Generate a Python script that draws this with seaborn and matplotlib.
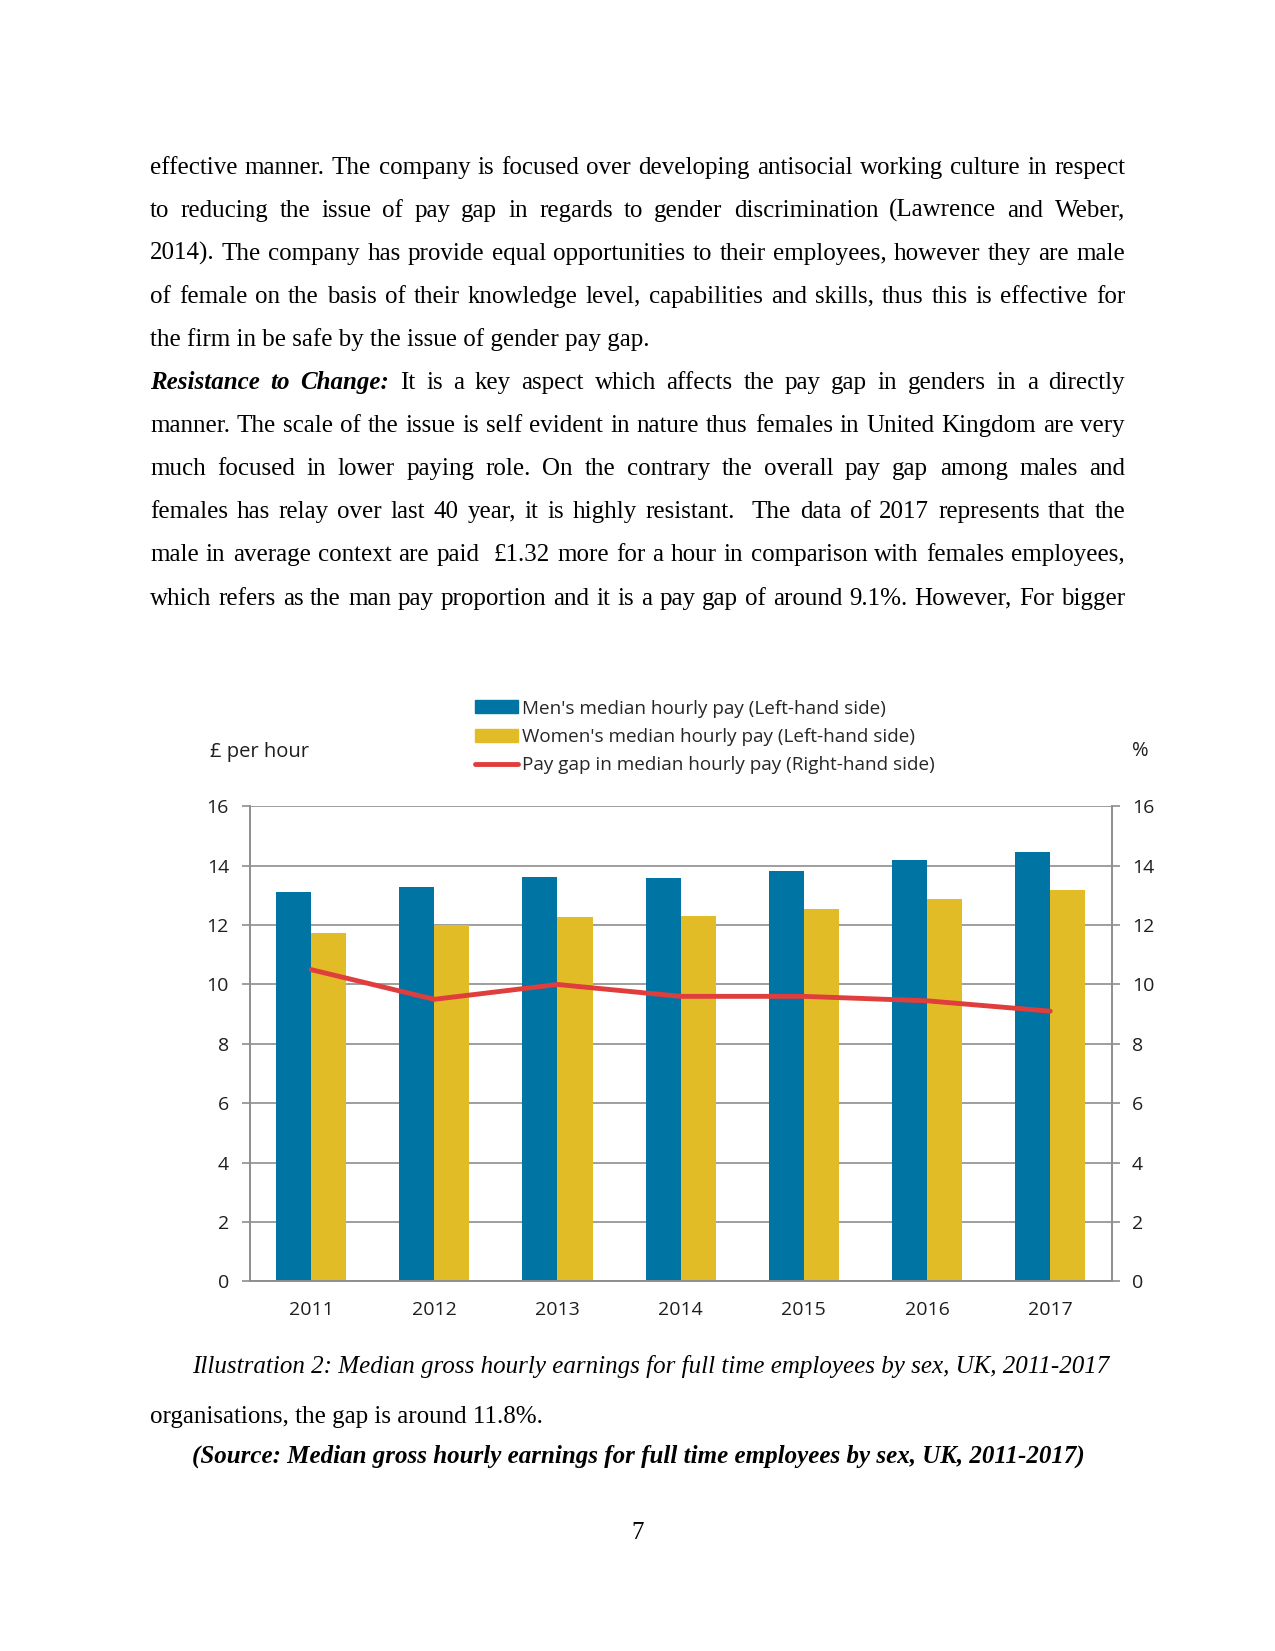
import numpy as np
import pandas as pd
import matplotlib
matplotlib.use("Agg")
import matplotlib.pyplot as plt
from matplotlib.patches import Patch
from matplotlib.lines import Line2D
from matplotlib.transforms import IdentityTransform
import seaborn as sns

# data
years = ["2011", "2012", "2013", "2014", "2015", "2016", "2017"]
men_pay = [13.1, 13.28, 13.62, 13.6, 13.84, 14.18, 14.48]
women_pay = [11.75, 12.0, 12.26, 12.32, 12.54, 12.88, 13.18]
pay_gap = [10.5, 9.5, 10.0, 9.6, 9.6, 9.45, 9.1]
series_labels = ["Men's median hourly pay (Left-hand side)",
                 "Women's median hourly pay (Left-hand side)",
                 "Pay gap in median hourly pay (Right-hand side)"]
y_ticks = [0, 2, 4, 6, 8, 10, 12, 14, 16]

# page text
para1 = [
    "effective manner. The company is focused over developing antisocial working culture in respect",
    "to reducing the issue of pay gap in regards to gender discrimination (Lawrence and Weber,",
    "2014). The company has provide equal opportunities to their employees, however they are male",
    "of female on the basis of their knowledge level, capabilities and skills, thus this is effective for",
    "the firm in be safe by the issue of gender pay gap.",
]
para2_head = "Resistance to Change:"
para2 = [
    "It is a key aspect which affects the pay gap in genders in a directly",
    "manner. The scale of the issue is self evident in nature thus females in United Kingdom are very",
    "much focused in lower paying role. On the contrary the overall pay gap among males and",
    "females has relay over last 40 year, it is highly resistant.  The data of 2017 represents that the",
    "male in average context are paid  \u00a31.32 more for a hour in comparison with females employees,",
    "which refers as the man pay proportion and it is a pay gap of around 9.1%. However, For bigger",
]
caption = "Illustration 2: Median gross hourly earnings for full time employees by sex, UK, 2011-2017"
after_text = "organisations, the gap is around 11.8%."
source_text = "(Source: Median gross hourly earnings for full time employees by sex, UK, 2011-2017)"
page_no = "7"

BLUE = "#0074A2"
YELLOW = "#E2BC27"
RED = "#E03E3C"
GRID = "#8E8E8E"
INK = "#1E1E1E"

sns.set_style("white")
plt.rcParams["font.family"] = ["Open Sans", "DejaVu Sans"]

W, H = 1275, 1651
fig = plt.figure(figsize=(W / 100, H / 100), dpi=100)
renderer = fig.canvas.get_renderer()

BODY = dict(family=["Liberation Serif", "DejaVu Serif"], fontsize=18, color="black")
BI = dict(fontweight="bold", fontstyle="italic")


def put(s, x, y, **kw):
    # x, y in pixels from top-left, y = baseline
    return fig.text(x, H - y, s, transform=IdentityTransform(), va="baseline", **kw)


def justify(words, y, x0=150, x1=1125):
    arts = [put(w, x0, y, **BODY, **st) for w, st in words]
    widths = [a.get_window_extent(renderer).width if w else 0.0
              for a, (w, st) in zip(arts, words)]
    gap = (x1 - x0 - sum(widths)) / (len(words) - 1)
    x = x0
    for a, wd in zip(arts, widths):
        a.set_x(x)
        x += wd + gap


LINE0, STEP = 173.5, 43.1
for i, line in enumerate(para1):
    y = LINE0 + STEP * i
    if i < len(para1) - 1:
        justify([(w, {}) for w in line.split(" ")], y)
    else:
        put(line, 150, y, **BODY)

for i, line in enumerate(para2):
    y = LINE0 + STEP * (i + len(para1))
    words = [(w, {}) for w in line.split(" ")]
    if i == 0:
        words = [(w, BI) for w in para2_head.split(" ")] + words
    justify(words, y)

put(caption, 192, 1373, fontstyle="italic", **BODY)
put(after_text, 150, 1423, **BODY)
put(source_text, 192, 1463, **BI, **BODY)
put(page_no, 637.5, 1539, ha="center", **BODY)

# chart
ax = fig.add_axes([249.5 / W, (H - 1281.3) / H, 862.3 / W, 474.9 / H])
bars = pd.DataFrame({
    "year": years * 2,
    "series": [series_labels[0]] * len(years) + [series_labels[1]] * len(years),
    "pay": men_pay + women_pay,
})
sns.barplot(data=bars, x="year", y="pay", hue="series", palette=[BLUE, YELLOW],
            width=0.57, saturation=1, errorbar=None, legend=False,
            linewidth=0, ax=ax)

ax2 = ax.twinx()
gap_df = pd.DataFrame({"pos": np.arange(len(years)), "gap": pay_gap})
sns.lineplot(data=gap_df, x="pos", y="gap", color=RED, lw=3.5, ax=ax2)

TICKFONT = dict(family=["Open Sans", "DejaVu Sans"], size=14)
for a in (ax, ax2):
    a.set_ylim(0, 16)
    a.set_yticks(y_ticks)
    a.set_yticklabels([str(v) for v in y_ticks], fontdict=TICKFONT, color=INK)
    a.set_xlabel("")
    a.set_ylabel("")
    for side in ("top", "left", "right", "bottom"):
        a.spines[side].set_color(GRID)
        a.spines[side].set_linewidth(1.2)
    a.spines["top"].set_visible(False)
ax.set_xlim(-0.5, len(years) - 0.5)
ax.grid(axis="y", color=GRID, lw=1.2)
ax.set_axisbelow(True)
ax.set_xticks(range(len(years)))
ax.set_xticklabels(years, fontdict=TICKFONT, color=INK)
ax.set_xticks(np.arange(-0.5, len(years), 1), minor=True)
ax.tick_params(axis="x", which="major", length=0, pad=14.5)
ax.tick_params(axis="x", which="minor", length=5, width=1.2, color=GRID, direction="out")
ax.tick_params(axis="y", left=True, length=5.8, width=1.2, color=GRID, pad=9)
ax2.tick_params(axis="y", right=True, length=5.8, width=1.2, color=GRID, pad=8.6)

put("\u00a3 per hour", 210.5, 756.5, fontsize=14.5, color=INK)
put("%", 1132, 756, fontsize=14.5, color=INK)

handles = [Patch(color=BLUE), Patch(color=YELLOW), Line2D([], [], color=RED, lw=3.5)]
fig.legend(handles, series_labels, loc="upper left",
           bbox_to_anchor=(474.8 / W, 1 - 699.5 / H), frameon=False,
           borderpad=0, borderaxespad=0, handlelength=2.3, handleheight=0.7,
           handletextpad=0.22, labelspacing=0.55,
           prop=dict(family=["Open Sans", "DejaVu Sans"], size=13.6))

fig.savefig("out.png", dpi=100)
